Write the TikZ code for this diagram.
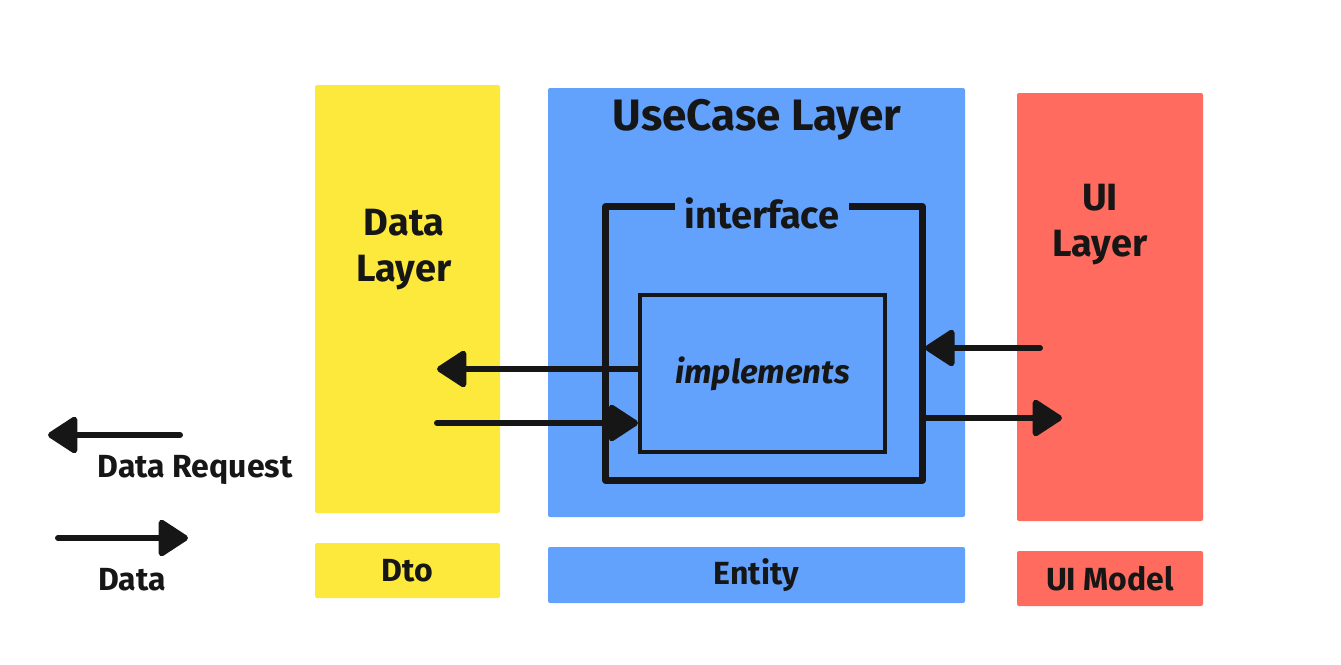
\documentclass[tikz,border=0pt]{standalone}
\usepackage{fontspec}
\setmainfont{Fira Sans}
\usetikzlibrary{arrows.meta,positioning}
\definecolor{LayerYellow}{HTML}{FCE93B}
\definecolor{LayerBlue}{HTML}{62A1FC}
\definecolor{LayerRed}{HTML}{FF6B5E}
\definecolor{Marker}{HTML}{161616}
\begin{document}
\begin{tikzpicture}[x=1pt,y=-1pt,>=Latex]
\tikzset{
  layer/.style={fill=#1,draw=none,rounded corners=2pt,inner sep=0pt},
  title/.style={font=\bfseries\fontsize{44}{50}\selectfont,text=Marker},
  word/.style={font=\bfseries\fontsize{38}{46}\selectfont,text=Marker,align=center},
  small/.style={font=\bfseries\fontsize{32}{34}\selectfont,text=Marker},
  frame/.style={draw=Marker,line width=7pt,line join=round},
  flow/.style={draw=Marker,line width=6pt,line cap=round,-{Triangle[length=32pt,width=40pt,round]}}
}
\useasboundingbox (0,0) rectangle (1341,664);

% layers
\node[layer=LayerYellow,minimum width=185,minimum height=428] (data) at (407.5,299) {};
\node[layer=LayerBlue,minimum width=417,minimum height=429] (usecase) at (756.5,302.5) {};
\node[layer=LayerRed,minimum width=186,minimum height=428] (ui) at (1110,307) {};
\node[word] at (404,250) {Data\\Layer};
\node[title] (uctitle) at (757,120) {UseCase Layer};
\node[word] at (1100,225) {UI\\Layer};

% models
\node[layer=LayerYellow,minimum width=185,minimum height=55] (dto) at (407.5,570.5) {};
\node[layer=LayerBlue,minimum width=417,minimum height=56] (entity) at (756.5,575) {};
\node[layer=LayerRed,minimum width=186,minimum height=55] (uimodel) at (1110,578.5) {};
\node[small] at (dto) {Dto};
\node[small] at (entity) {Entity};
\node[small] at (uimodel) {UI Model};

% interface / implements
\node[minimum width=316,minimum height=273,inner sep=0pt] (ifbox) at (764,343.5) {};
\node[word,inner sep=9pt] (iface) at (762,213) {interface};
\draw[frame] (ifbox.north west -| iface.west) -- (ifbox.north west) -- (ifbox.south west)
  -- (ifbox.south east) -- (ifbox.north east) -- (ifbox.north east -| iface.east);
\node[draw=Marker,line width=4pt,minimum width=245,minimum height=157,font=\bfseries\fontsize{33}{36}\selectfont\itshape,text=Marker] (impl) at (762.5,373.5) {implements};

% connectors
\coordinate (dreq) at (437,369);
\coordinate (dres) at (437,423);
\coordinate (ureq) at (1040,348);
\coordinate (ures) at (1062,418);
\draw[flow] (impl.west |- dreq) -- (dreq);
\draw[flow] (dres) -- (dres -| impl.west);
\draw[flow] (ureq) -- ([xshift=3]ureq -| ifbox.east);
\draw[flow] ([xshift=3]ures -| ifbox.east) -- (ures);

% legend
\coordinate (lgreq) at (180,435);
\coordinate (lgreqend) at (48,435);
\coordinate (lgdata) at (58,538);
\coordinate (lgdataend) at (188,538);
\draw[flow] (lgreq) -- (lgreqend);
\draw[flow] (lgdata) -- (lgdataend);
\node[small] (lgreqtext) at (195,470) {Data Request};
\node[small] (lgdatatext) at (132,580) {Data};
\end{tikzpicture}
\end{document}
